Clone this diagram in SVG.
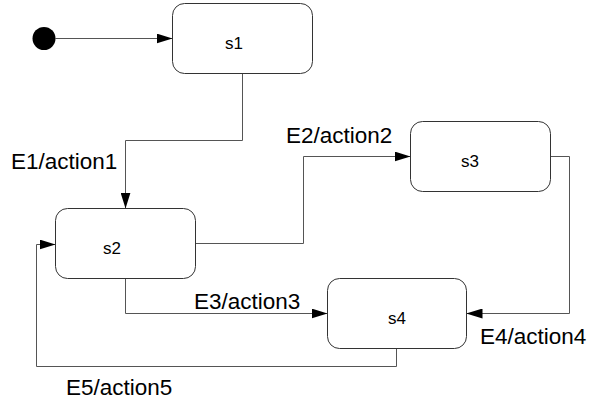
<svg xmlns="http://www.w3.org/2000/svg" width="591" height="405" viewBox="0 0 591 405">
  <style>
    .state rect { fill: #ffffff; stroke: #333333; stroke-width: 1; }
    .state text { font-family: "Liberation Sans", Arial, sans-serif; font-size: 17px; fill: #000000; }
    .edge { fill: none; stroke: #555555; stroke-width: 1; marker-end: url(#arrow); }
    .label { font-family: "Liberation Sans", Arial, sans-serif; font-size: 22.5px; fill: #000000; }
  </style>
  <defs>
    <marker id="arrow" markerUnits="userSpaceOnUse" markerWidth="16" markerHeight="10" refX="16" refY="5" orient="auto">
      <path d="M0,0 L16,5 L0,10 Z" fill="#000000"/>
    </marker>
  </defs>
  <rect width="591" height="405" fill="#ffffff"/>

  <g id="connectors">
    <path class="edge" d="M55.5,38.5 H172.5"/>
    <path class="edge" d="M242.5,73.5 V140.5 H125.5 V208.5"/>
    <path class="edge" d="M195.5,243.5 H303.5 V156.5 H410.5"/>
    <path class="edge" d="M550.5,156.5 H569.5 V313.5 H466.5"/>
    <path class="edge" d="M125.5,278.5 V313.5 H327.5"/>
    <path class="edge" d="M396.5,348.5 V366.5 H36.5 V244.5 H55.5"/>
    <text class="label" x="11" y="169">E1/action1</text>
    <text class="label" x="286" y="143">E2/action2</text>
    <text class="label" x="194" y="309">E3/action3</text>
    <text class="label" x="480" y="344">E4/action4</text>
    <text class="label" x="66" y="395">E5/action5</text>
  </g>

  <g id="start">
    <circle cx="44" cy="38.5" r="11.5" fill="#000000"/>
  </g>

  <g id="s1" class="state">
    <rect x="172.5" y="3.5" width="140" height="70" rx="12"/>
    <text x="225" y="49">s1</text>
  </g>

  <g id="s2" class="state">
    <rect x="55.5" y="208.5" width="140" height="70" rx="12"/>
    <text x="103" y="254">s2</text>
  </g>

  <g id="s3" class="state">
    <rect x="410.5" y="121.5" width="140" height="70" rx="12"/>
    <text x="461" y="167">s3</text>
  </g>

  <g id="s4" class="state">
    <rect x="327.5" y="278.5" width="139" height="70" rx="12"/>
    <text x="388" y="324">s4</text>
  </g>
</svg>
